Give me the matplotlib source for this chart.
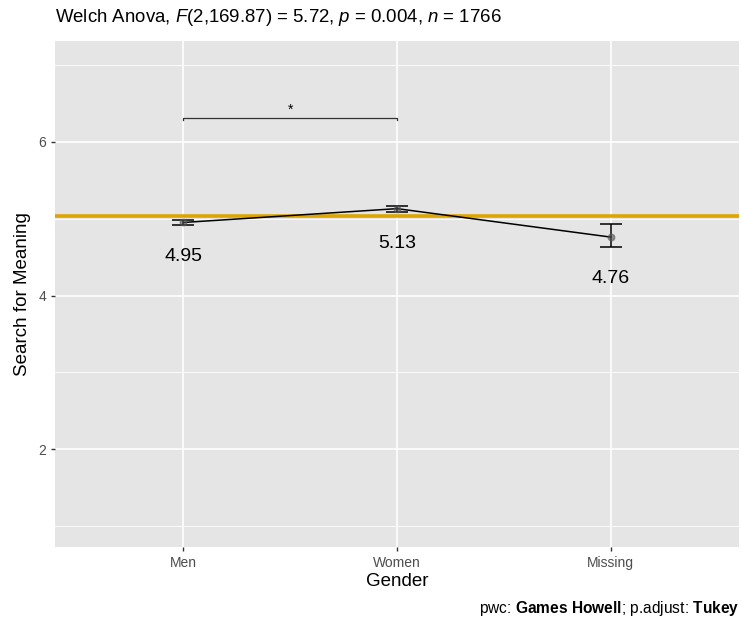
import numpy as np
import matplotlib
matplotlib.use("Agg")
import matplotlib.pyplot as plt

groups = ['Men', 'Women', 'Missing']
means = [4.95, 5.13, 4.76]
lower = [4.92, 5.09, 4.63]
upper = [4.98, 5.17, 4.93]
grand_mean = 5.03
bracket_y = 6.31
bracket_label = '*'


def main():
    plt.rcParams['font.family'] = ['Liberation Sans', 'DejaVu Sans']
    plt.rcParams['mathtext.fontset'] = 'custom'
    plt.rcParams['mathtext.rm'] = 'Liberation Sans'
    plt.rcParams['mathtext.it'] = 'Liberation Sans:italic'
    plt.rcParams['mathtext.bf'] = 'Liberation Sans:bold'

    fig = plt.figure(figsize=(7.43, 6.23), dpi=100)
    ax = fig.add_axes([55 / 743, 1 - 547 / 623, 684 / 743, 506 / 623])
    ax.set_facecolor('#E5E5E5')
    for s in ax.spines.values():
        s.set_visible(False)

    x = np.arange(1, len(groups) + 1)
    ax.set_xlim(0.4, 3.6)
    ax.set_ylim(0.73, 7.31)

    # grid
    for v in [1, 3, 5, 7]:
        ax.axhline(v, color='white', lw=0.6, zorder=0)
    for v in [2, 4, 6]:
        ax.axhline(v, color='white', lw=1.2, zorder=0)
    for v in x:
        ax.axvline(v, color='white', lw=1.2, zorder=0)

    ax.axhline(grand_mean, color='#E0A400', lw=2.6, zorder=2)

    ax.plot(x, means, color='black', lw=1.1, zorder=3)
    yerr = [np.array(means) - np.array(lower), np.array(upper) - np.array(means)]
    ax.errorbar(x, means, yerr=yerr, fmt='none', ecolor='black', elinewidth=1.1,
                capsize=8, capthick=1.1, zorder=3)
    ax.scatter(x, means, s=22, color='#555555', alpha=0.6, zorder=4)

    for xi, lo, m in zip(x, lower, means):
        ax.text(xi, lo - 0.41, f'{m:.2f}', ha='center', va='center', fontsize=14,
                color='black')

    # significance bracket
    ax.plot([1, 1, 2, 2], [bracket_y - 0.03, bracket_y, bracket_y, bracket_y - 0.03],
            color='#333333', lw=0.9)
    ax.text(1.5, bracket_y + 0.02, bracket_label, ha='center', va='bottom', fontsize=10)

    ax.set_xticks(x)
    ax.set_xticklabels(groups)
    ax.set_yticks([2, 4, 6])
    ax.tick_params(axis='both', length=3, width=1, color='#333333',
                   labelcolor='#4D4D4D', labelsize=10)
    ax.set_xlabel('Gender', fontsize=13.5, labelpad=2)
    ax.set_ylabel('Search for Meaning', fontsize=13.5, labelpad=5)

    fig.text(55 / 743, 1 - 18 / 623,
             r'Welch Anova, $\mathit{F}$(2,169.87) = 5.72, $\mathit{p}$ = 0.004, $\mathit{n}$ = 1766',
             ha='left', va='center', fontsize=13.4)
    fig.text(739 / 743, 1 - 608 / 623,
             r'pwc: $\mathbf{Games\ Howell}$; p.adjust: $\mathbf{Tukey}$',
             ha='right', va='center', fontsize=11.2)

    fig.savefig('out.png', dpi=100)


if __name__ == "__main__":
    main()
